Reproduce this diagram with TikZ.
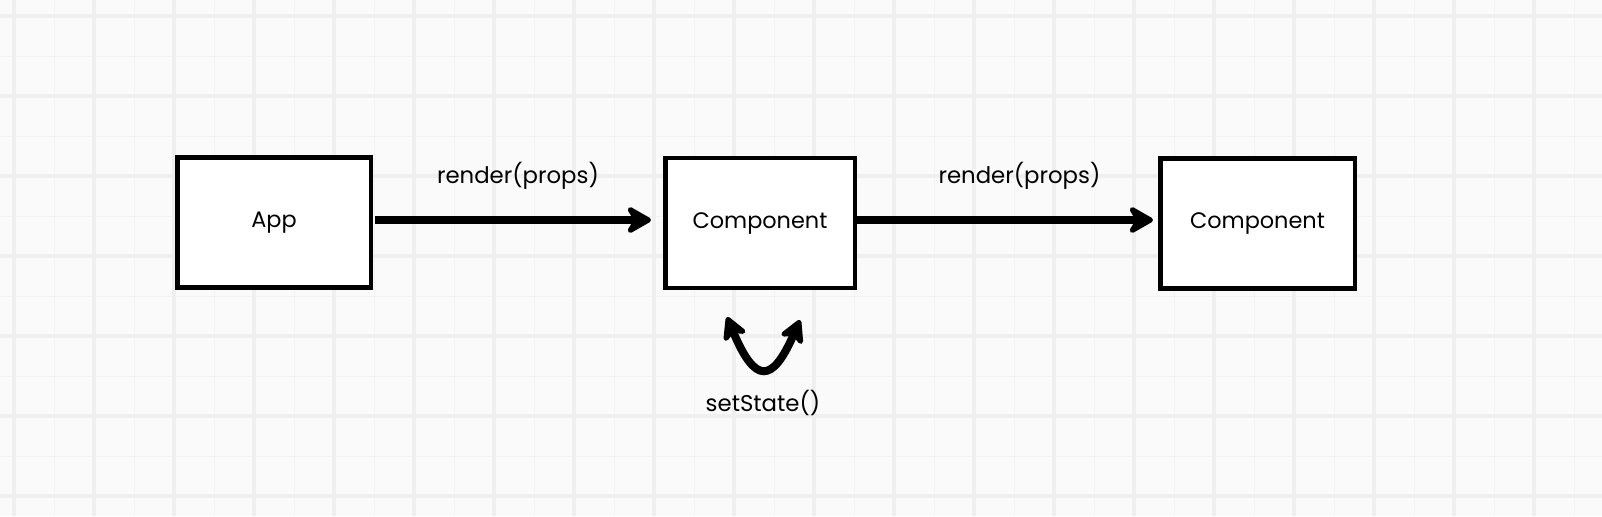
\documentclass[tikz,border=0pt]{standalone}
\usepackage{fontspec}
\setmainfont{Poppins}
\usetikzlibrary{positioning, arrows.meta, calc}
\definecolor{paper}{HTML}{FAFAFA}
\definecolor{gridmajor}{HTML}{EFEFEF}
\definecolor{gridminor}{HTML}{F2F2F2}
\tikzstyle{comp}=[
  draw=black,
  fill=white,
  line width=2.25pt,
  minimum width=96.75pt,
  minimum height=65pt,
  font={\fontsize{11.2}{13}\selectfont}
]
\tikzstyle{flow}=[
  line width=4pt,
  -{Stealth[length=15pt,width=17pt,inset=5pt,round]}
]
\tikzstyle{lbl}=[font={\fontsize{11.4}{13}\selectfont}]

\begin{document}
\begin{tikzpicture}[x=0.5pt, y=-0.5pt]

\newcommand\PW{1602}
\newcommand\PH{516}

\useasboundingbox (0,0) rectangle (\PW,\PH);
\fill[paper] (0,0) rectangle (\PW,\PH); %% background

%% grid
\foreach \gx in {54,134,...,1600} \draw[gridminor, line width=0.5pt] (\gx,0) -- (\gx,\PH);
\foreach \gy in {56,136,...,516} \draw[gridminor, line width=0.5pt] (0,\gy) -- (\PW,\gy);
\foreach \gx in {14,94,...,1600} \draw[gridmajor, line width=2pt] (\gx,0) -- (\gx,\PH);
\foreach \gy in {16,96,...,516} \draw[gridmajor, line width=2pt] (0,\gy) -- (\PW,\gy);

%% boxes
\node[comp] (app) at (274,222.5) {App};
\node[comp, minimum width=94.75pt] (comp1) at (760,223) {Component};
\node[comp, minimum width=97.25pt] (comp2) at (1257.5,223.5) {Component};

%% render arrows
\coordinate (lane) at (0,220);
\draw[flow, shorten <=1pt, shorten >=6pt] (app.east |- lane) -- (comp1.west |- lane);
\draw[flow, shorten <=-1pt, shorten >=2.5pt] (comp1.east |- lane) -- (comp2.west |- lane);

\node[lbl, anchor=base] (r1) at ($(app.east |- lane)!0.5!(comp1.west |- lane) + (0,-37)$) {render(props)};
\node[lbl, anchor=base] (r2) at ($(comp1.east |- lane)!0.5!(comp2.west |- lane) + (12,-37)$) {render(props)};

%% self update
\coordinate (sl) at (727,317);
\coordinate (sr) at (800,320);
\draw[line width=4pt, {Stealth[length=14pt,width=15pt,inset=4pt,round]}-{Stealth[length=14pt,width=15pt,inset=4pt,round]}]
  (sl) .. controls (755,384) and (772,384) .. (sr);
\node[lbl] (st) at (763,403) {setState()};

\end{tikzpicture}
\end{document}
